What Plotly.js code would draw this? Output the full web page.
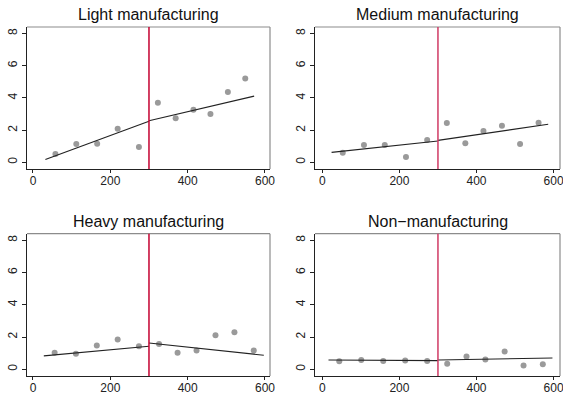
<!DOCTYPE html>
<html><head><meta charset="utf-8">
<script src="https://cdn.plot.ly/plotly-3.0.1.min.js"></script>
<style>html,body{margin:0;padding:0;background:#fff}</style>
</head><body><div id="chart" style="width:563px;height:393px"></div>
<script>
const panelTitles = ["Light manufacturing","Medium manufacturing","Heavy manufacturing","Non\u2212manufacturing"];
const cutoff = 300;

const lightX = [58,112,166,219,274,323,369,415,459,504,549];
const lightY = [0.52,1.14,1.16,2.09,0.95,3.70,2.73,3.26,3.00,4.36,5.20];
const lightFitLeftX = [32,300];  const lightFitLeftY = [0.17,2.55];
const lightFitRightX = [300,572]; const lightFitRightY = [2.58,4.11];

const mediumX = [53,108,162,217,272,323,371,418,466,513,561];
const mediumY = [0.60,1.07,1.07,0.33,1.38,2.44,1.18,1.94,2.27,1.14,2.46];
const mediumFitLeftX = [24,300];  const mediumFitLeftY = [0.62,1.32];
const mediumFitRightX = [300,586]; const mediumFitRightY = [1.36,2.36];

const heavyX = [56,111,165,219,274,326,374,423,472,521,571];
const heavyY = [1.03,0.97,1.47,1.84,1.43,1.57,1.03,1.16,2.11,2.29,1.16];
const heavyFitLeftX = [28,300];  const heavyFitLeftY = [0.83,1.43];
const heavyFitRightX = [300,597]; const heavyFitRightY = [1.63,0.87];

const nonX = [44,101,158,215,272,324,374,423,473,522,572];
const nonY = [0.50,0.58,0.52,0.54,0.52,0.35,0.79,0.60,1.10,0.23,0.31];
const nonFitLeftX = [16,300];  const nonFitLeftY = [0.58,0.54];
const nonFitRightX = [300,597]; const nonFitRightY = [0.58,0.70];

const xTicks = [0,200,400,600];
const yTicks = [0,2,4,6,8];

const panels = [
  {x:lightX,y:lightY,lx:lightFitLeftX,ly:lightFitLeftY,rx:lightFitRightX,ry:lightFitRightY},
  {x:mediumX,y:mediumY,lx:mediumFitLeftX,ly:mediumFitLeftY,rx:mediumFitRightX,ry:mediumFitRightY},
  {x:heavyX,y:heavyY,lx:heavyFitLeftX,ly:heavyFitLeftY,rx:heavyFitRightX,ry:heavyFitRightY},
  {x:nonX,y:nonY,lx:nonFitLeftX,ly:nonFitLeftY,rx:nonFitRightX,ry:nonFitRightY}
];

const W = 563, H = 393;
const xDom = [[27/W, 270/W],[315/W, 560/W]];
const yDom = [[1-169/H, 1-27/H],[1-376/H, 1-233.7/H]];
const xRanges = [[-15.5,613],[-19,616.6]];
const yRange = [-0.415, 8.4];
const redCols = ["#c40030","#d03a64"];

const data = [];
const layout = {
  width: W, height: H, margin:{l:0,r:0,t:0,b:0},
  paper_bgcolor:"#fff", plot_bgcolor:"#fff", showlegend:false,
  font:{family:"Liberation Sans, Arial, sans-serif", color:"#222"},
  shapes:[], annotations:[]
};

panels.forEach((p,i)=>{
  const col = i%2, row = Math.floor(i/2);
  const n = i+1;
  const xa = n===1?"x":"x"+n, ya = n===1?"y":"y"+n;
  data.push({x:p.x,y:p.y,xaxis:xa,yaxis:ya,type:"scatter",mode:"markers",
    marker:{color:"#9a9a9a",size:6,line:{width:0}},hoverinfo:"skip"});
  data.push({x:p.lx,y:p.ly,xaxis:xa,yaxis:ya,type:"scatter",mode:"lines",
    line:{color:"#222",width:1.1},hoverinfo:"skip"});
  data.push({x:p.rx,y:p.ry,xaxis:xa,yaxis:ya,type:"scatter",mode:"lines",
    line:{color:"#222",width:1.1},hoverinfo:"skip"});
  layout["xaxis"+(n===1?"":n)] = {domain:xDom[col],anchor:ya,range:xRanges[col],
    tickvals:xTicks,ticktext:xTicks.map(String),ticks:"outside",ticklen:3,tickcolor:"#222",
    ticklabelstandoff:-2,ticklabeloverflow:"allow",
    showline:true,linecolor:"#222",linewidth:1,showgrid:false,zeroline:false,
    tickfont:{size:12,color:"#222"},fixedrange:true};
  layout["yaxis"+(n===1?"":n)] = {domain:yDom[row],anchor:xa,range:yRange,
    tickvals:yTicks,ticktext:yTicks.map(String),ticks:"outside",ticklen:4,tickcolor:"#222",
    tickangle:-90,showline:true,linecolor:"#222",linewidth:1,showgrid:false,zeroline:false,
    tickfont:{size:12,color:"#222"},fixedrange:true};
  layout.shapes.push({type:"line",xref:xa+" domain",yref:ya+" domain",x0:0,x1:1,y0:1,y1:1,
    line:{color:"#8c8c8c",width:1.2}});
  layout.shapes.push({type:"line",xref:xa+" domain",yref:ya+" domain",x0:1,x1:1,y0:0,y1:1,
    line:{color:"#8c8c8c",width:1.2}});
  layout.shapes.push({type:"line",xref:xa,yref:ya+" domain",x0:cutoff,x1:cutoff,y0:0,y1:1,
    line:{color:redCols[col],width:1.5},layer:"above"});
  layout.annotations.push({text:panelTitles[i],xref:"paper",yref:"paper",
    x:(xDom[col][0]+xDom[col][1])/2,y:yDom[row][1]+ 12/H,
    xanchor:"center",yanchor:"middle",showarrow:false,
    font:{size:16,color:"#111",family:"Liberation Sans, Arial, sans-serif"}});
});

Plotly.newPlot("chart",data,layout,{staticPlot:true,displayModeBar:false});
</script></body></html>
